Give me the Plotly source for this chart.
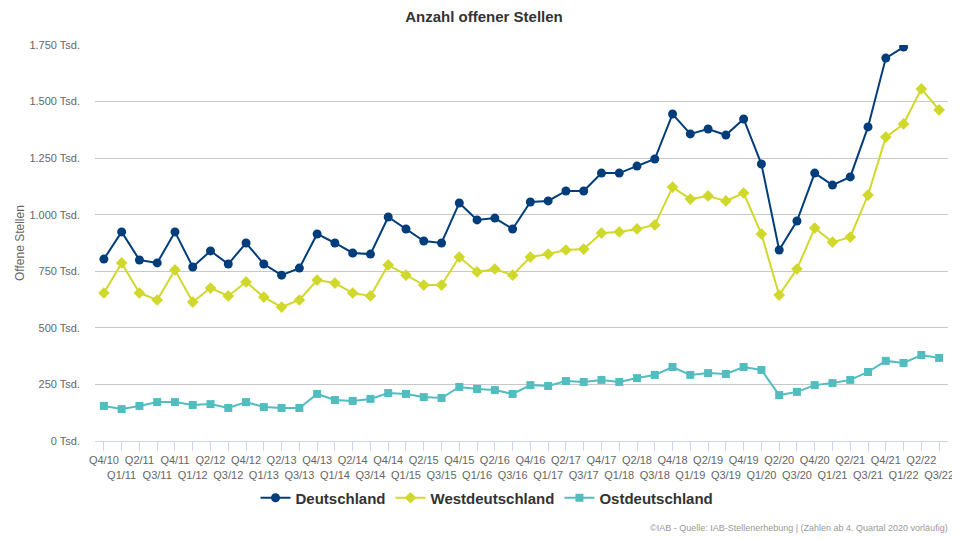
import plotly.graph_objects as go

quarters = ["Q4/10"] + [f"Q{q}/{y:02d}" for y in range(11, 22) for q in range(1, 5)] + ["Q1/22", "Q2/22", "Q3/22"]

deutschland = [804, 924, 800, 787, 924, 769, 840, 782, 875, 782, 733, 764,
               915, 875, 831, 826, 990, 937, 884, 875, 1052, 977, 985, 937,
               1056, 1061, 1105, 1105, 1184, 1184, 1215, 1246, 1445, 1357, 1379, 1352,
               1423, 1224, 844, 972, 1184, 1131, 1167, 1388, 1692, 1741]
westdeutschland = [654, 787, 654, 623, 756, 614, 676, 641, 703, 636, 592, 623,
                   711, 698, 654, 641, 778, 733, 689, 689, 813, 747, 760, 733,
                   813, 826, 844, 848, 919, 924, 937, 955, 1122, 1069, 1083, 1061,
                   1096, 915, 645, 760, 941, 879, 901, 1087, 1343, 1401, 1556, 1463]
ostdeutschland = [155, 141, 155, 172, 172, 159, 163, 146, 172, 150, 146, 146,
                  208, 181, 177, 186, 212, 208, 194, 190, 239, 230, 225, 208,
                  247, 243, 265, 261, 270, 261, 278, 292, 327, 292, 300, 296,
                  327, 314, 203, 217, 247, 256, 270, 305, 354, 345, 380, 367]

y_ticks = [0, 250, 500, 750, 1000, 1250, 1500, 1750]
y_labels = ["0 Tsd.", "250 Tsd.", "500 Tsd.", "750 Tsd.", "1.000 Tsd.", "1.250 Tsd.", "1.500 Tsd.", "1.750 Tsd."]

x_labels = [q if i % 2 == 0 else "<br>" + q for i, q in enumerate(quarters)]

FONT = "Liberation Sans, Arial, sans-serif"

# page body has an 8px margin, so the figure is drawn 8px smaller
W, H = 952, 532
L, R, T, B = 87, 12, 37, 99
PW, PH = W - L - R, H - T - B

fig = go.Figure()
fig.add_trace(go.Scatter(x=quarters[:len(deutschland)], y=deutschland, name="<b>Deutschland</b>",
                         mode="lines+markers", line=dict(color="#023d7b", width=2),
                         marker=dict(symbol="circle", size=9, color="#023d7b")))
fig.add_trace(go.Scatter(x=quarters, y=westdeutschland, name="<b>Westdeutschland</b>",
                         mode="lines+markers", line=dict(color="#d1d82c", width=2),
                         marker=dict(symbol="diamond", size=9, color="#d1d82c")))
fig.add_trace(go.Scatter(x=quarters, y=ostdeutschland, name="<b>Ostdeutschland</b>",
                         mode="lines+markers", line=dict(color="#52bdbf", width=2),
                         marker=dict(symbol="square", size=8, color="#52bdbf")))

fig.update_layout(
    width=W, height=H,
    margin=dict(l=L, r=R, t=T, b=B, autoexpand=False),
    paper_bgcolor="white", plot_bgcolor="white",
    font=dict(family=FONT, color="#666666", size=11),
    title=dict(text="<b>Anzahl offener Stellen</b>", x=0.5, xanchor="center",
               y=1 - 9 / H, yanchor="middle",
               font=dict(size=15, color="#333333", family=FONT)),
    xaxis=dict(type="category", range=[-0.5, len(quarters) - 0.5],
               tickmode="array", tickvals=quarters, ticktext=x_labels,
               tickangle=0, ticks="outside", ticklen=9, tickcolor="#ccd6eb",
               showline=True, linecolor="#ccd6eb", linewidth=1,
               showgrid=False, zeroline=False, automargin=False,
               tickfont=dict(size=11, color="#666666")),
    yaxis=dict(range=[0, 1750], tickmode="array", tickvals=y_ticks, ticktext=y_labels,
               showgrid=True, gridcolor="#c8c8c8", gridwidth=1, zeroline=False,
               showline=False, ticks="", ticklabelstandoff=14, automargin=False,
               tickfont=dict(size=11, color="#666666")),
    legend=dict(orientation="h", x=(479 - L) / PW, xanchor="center", y=(433 - 490) / PH, yanchor="middle",
                font=dict(size=15, color="#333333", family=FONT), itemwidth=30,
                traceorder="normal"),
    showlegend=True,
)
fig.add_annotation(text="Offene Stellen", textangle=-90,
                   xref="paper", yref="paper", x=(12 - L) / PW, y=0.5,
                   xanchor="center", yanchor="middle", showarrow=False,
                   font=dict(size=12, color="#666666", family=FONT))
fig.add_annotation(text="©IAB - Quelle: IAB-Stellenerhebung | (Zahlen ab 4. Quartal 2020 vorläufig)",
                   xref="paper", yref="paper", x=(942 - L) / PW, y=(433 - 520) / PH,
                   xanchor="right", yanchor="middle", showarrow=False,
                   font=dict(size=9, color="#999999", family=FONT))

fig.write_html("out.html")
